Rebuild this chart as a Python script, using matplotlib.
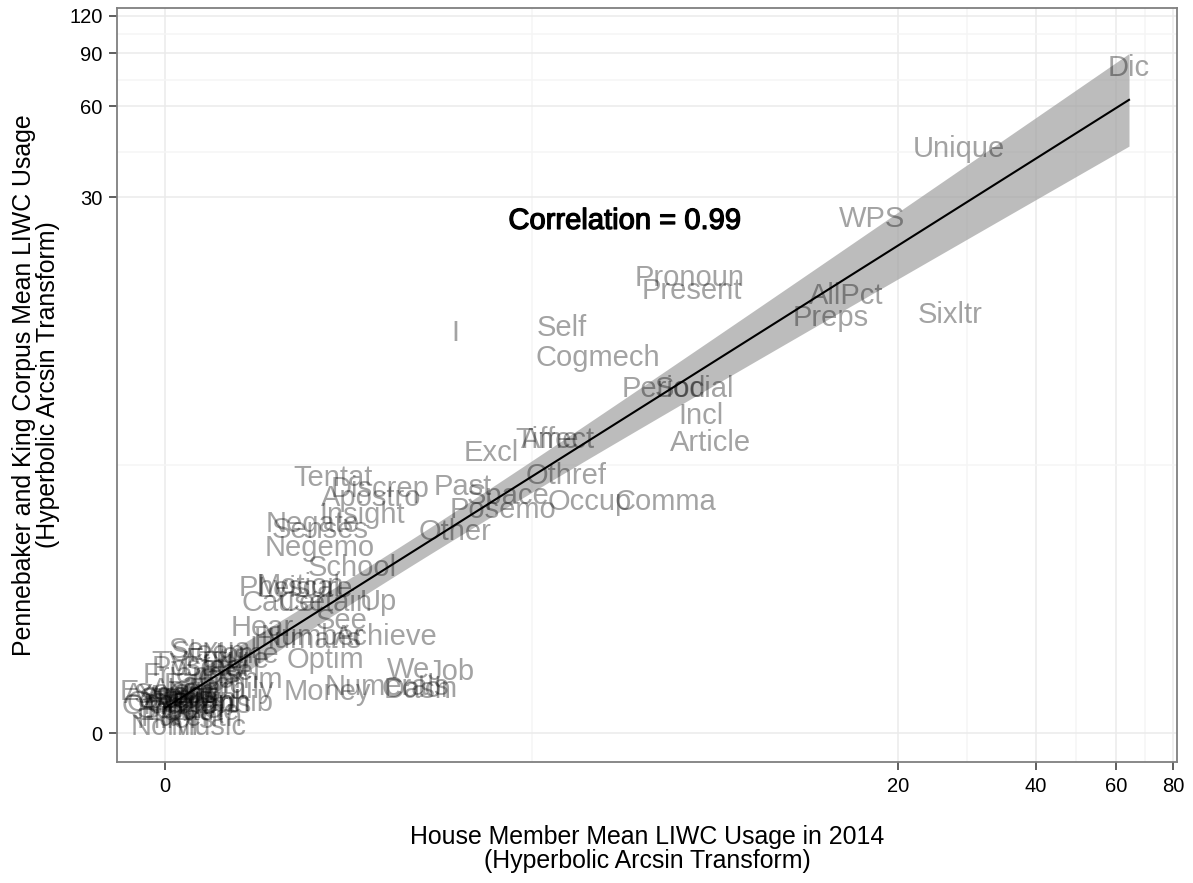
import numpy as np
import matplotlib
matplotlib.use("Agg")
import matplotlib.pyplot as plt
import matplotlib.patheffects as pe
from matplotlib.ticker import FixedLocator, FixedFormatter

plt.rcParams['font.family'] = ['Liberation Sans', 'DejaVu Sans']

# LIWC categories: house member mean (x) vs Pennebaker & King corpus mean (y)
labels = ["Dic", "Unique", "WPS", "Sixltr", "AllPct", "Preps", "Pronoun", "Present",
          "I", "Self", "Cogmech", "Period", "Social", "Incl", "Article", "Excl",
          "Time", "Affect", "Othref", "Comma", "Occup", "Space", "Posemo", "Past",
          "Discrep", "Apostro", "Tentat", "Insight", "Other", "Negate", "Senses",
          "Negemo", "School", "Physcal", "Motion", "Leisure", "Cause", "Certain",
          "Up", "See", "Hear", "Humans", "Number", "Achieve", "Optim", "We", "Job",
          "Numerals", "Dash", "Colon", "Money", "Family", "Inhib", "Metaph",
          "Sexual", "Sleep", "Home", "Future", "TV", "Posfeel", "Friends", "Body",
          "Feel", "Comm", "Exclam", "Anger", "Eating", "Relig", "OtherP", "QMark",
          "SemiC", "Quote", "Anx", "Sad", "Death", "Swear", "Groom", "Fillers",
          "Down", "Assent", "You", "Sports", "Parenth", "Nonfl", "Music"]
house = [63.96, 27.2, 17.55, 26.0, 15.4, 14.26, 6.98, 7.06,
         2.036, 3.62, 4.36, 6.12, 7.13, 7.39, 7.77, 2.48,
         3.35, 3.55, 3.69, 6.15, 4.19, 2.72, 2.65, 2.13,
         1.306, 1.233, 0.95, 1.161, 2.036, 0.816, 0.862,
         0.862, 1.086, 0.671, 0.733, 0.764, 0.635, 0.90,
         1.29, 1.01, 0.508, 0.78, 0.81, 1.356, 0.895, 1.56, 1.99,
         1.364, 1.646, 1.66, 0.908, 0.343, 0.397, 0.187,
         0.244, 0.218, 0.3865, 0.322, 0.025, 0.177, 0.131, 0.254,
         0.343, 0.3865, 0.01, 0.126, 0.202, 0.101, 0.04, 0.0,
         0.0756, 0.177, 0.025, 0.0, 0.101, 0.05, 0.126, 0.05,
         0.177, 0.015, 0.152, 0.228, 0.136, 0.0, 0.223]
pk = [80.4, 43.3, 25.4, 12.16, 14.1, 11.88, 16.15, 14.62,
      10.60, 11.01, 8.75, 6.89, 6.89, 5.59, 4.53, 4.19,
      4.64, 4.64, 3.49, 2.83, 2.83, 2.98, 2.66, 3.20,
      3.15, 2.93, 3.44, 2.55, 2.22, 2.37, 2.25,
      1.93, 1.62, 1.35, 1.37, 1.336, 1.164, 1.164,
      1.176, 0.964, 0.891, 0.772, 0.801, 0.801, 0.587, 0.50, 0.483,
      0.358, 0.3345, 0.34, 0.318, 0.334, 0.231, 0.231,
      0.677, 0.650, 0.632, 0.587, 0.561, 0.517, 0.458, 0.517,
      0.483, 0.416, 0.318, 0.334, 0.375, 0.255, 0.231, 0.208,
      0.177, 0.161, 0.278, 0.255, 0.161, 0.294, 0.216, 0.099,
      0.255, 0.294, 0.294, 0.216, 0.115, 0.046, 0.046]

x_breaks = [0, 20, 40, 60, 80]
y_breaks = [0, 30, 60, 90, 120]
corr_text = "Correlation = 0.99"

x = np.array(house)
y = np.array(pk)
tx = np.arcsinh(x)
ty = np.arcsinh(y)

# linear fit on transformed scale with 95% band
b, a = np.polyfit(tx, ty, 1)
n = len(tx)
resid = ty - (a + b * tx)
s = np.sqrt(np.sum(resid ** 2) / (n - 2))
sxx = np.sum((tx - tx.mean()) ** 2)
grid = np.linspace(tx.min(), tx.max(), 120)
fit = a + b * grid
se = s * np.sqrt(1.0 / n + (grid - tx.mean()) ** 2 / sxx)
tcrit = 1.99

fig = plt.figure(figsize=(11.93, 8.83), dpi=100)
ax = fig.add_axes([117 / 1193, 121 / 883, 1060 / 1193, 754 / 883])

ax.set_xscale('asinh', linear_width=1)
ax.set_yscale('asinh', linear_width=1)

ax.fill_between(np.sinh(grid), np.sinh(fit - tcrit * se), np.sinh(fit + tcrit * se),
                color='#999999', alpha=0.65, linewidth=0, zorder=2)
ax.plot(np.sinh(grid), np.sinh(fit), color='black', linewidth=1.5, zorder=3)

for lab, xv, yv in zip(labels, x, y):
    ax.text(xv, yv, lab, fontsize=21, color='black', alpha=0.36,
            ha='center', va='center', zorder=4)

ax.text(5, 25, corr_text, fontsize=21, color='black', ha='center', va='center', zorder=5,
        path_effects=[pe.withStroke(linewidth=0.9, foreground='black')])

ax.set_xlim(np.sinh(-0.242), np.sinh(5.093))
ax.set_ylim(np.sinh(-0.2215), np.sinh(5.539))

def minors(br):
    t = np.arcsinh(br)
    return list(np.sinh((t[:-1] + t[1:]) / 2))

ax.xaxis.set_major_locator(FixedLocator(x_breaks))
ax.xaxis.set_major_formatter(FixedFormatter([str(v) for v in x_breaks]))
ax.yaxis.set_major_locator(FixedLocator(y_breaks))
ax.yaxis.set_major_formatter(FixedFormatter([str(v) for v in y_breaks]))
ax.xaxis.set_minor_locator(FixedLocator(minors(x_breaks)))
ax.yaxis.set_minor_locator(FixedLocator(minors(y_breaks)))
ax.xaxis.set_minor_formatter(FixedFormatter([]))
ax.yaxis.set_minor_formatter(FixedFormatter([]))

ax.grid(which='major', color='#ebebeb', linewidth=1.1, zorder=0)
ax.grid(which='minor', color='#f5f5f5', linewidth=1.1, zorder=0)
ax.set_axisbelow(True)

ax.tick_params(which='major', length=5.5, width=1.1, color='#333333',
               labelsize=14.5, labelcolor='black', pad=5)
ax.tick_params(which='minor', length=0)
for sp in ax.spines.values():
    sp.set_color('#7f7f7f')
    sp.set_linewidth(1.3)

fig.text(647 / 1193, 1 - 849 / 883,
         "House Member Mean LIWC Usage in 2014\n(Hyperbolic Arcsin Transform)",
         ha='center', va='center', fontsize=17.9, linespacing=1.0)
fig.text(36 / 1193, 1 - 385 / 883,
         "Pennebaker and King Corpus Mean LIWC Usage\n(Hyperbolic Arcsin Transform)",
         ha='center', va='center', rotation=90, fontsize=17.9, linespacing=1.0)

fig.savefig("out.png", dpi=100)
